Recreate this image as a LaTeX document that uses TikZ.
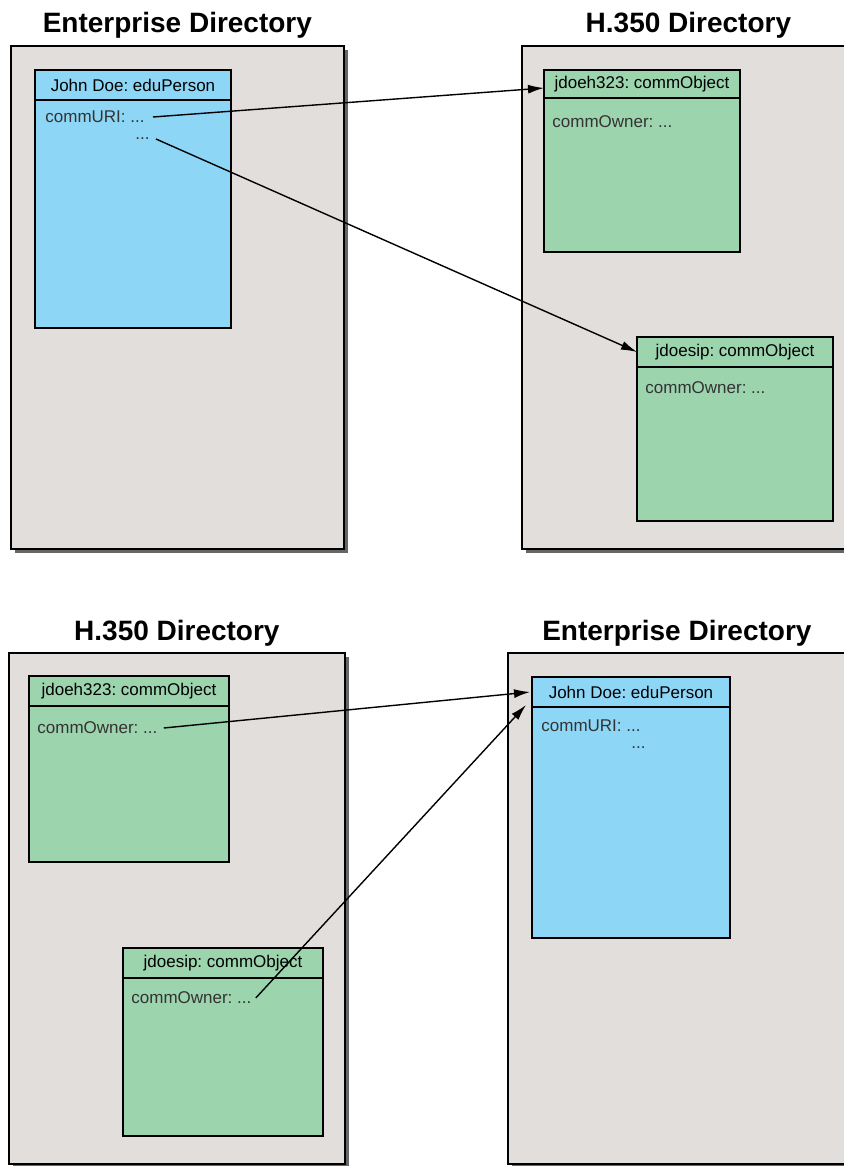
\documentclass[tikz,border=0pt]{standalone}
\usepackage{fontspec}
\setmainfont{Liberation Sans}
\usetikzlibrary{shadows,arrows.meta,positioning}
\definecolor{dirgray}{HTML}{E2DEDC}
\definecolor{edublue}{HTML}{8ED6F6}
\definecolor{commgreen}{HTML}{9CD4AE}
\frenchspacing
\begin{document}
\begin{tikzpicture}[x=0.5pt,y=-0.5pt,>={Latex[length=8pt,width=4.5pt]},
    dirbox/.style={draw,line width=0.9pt,fill=dirgray,anchor=north west,inner sep=0,
      drop shadow={shadow xshift=2pt,shadow yshift=-2pt,fill=black!75,opacity=0.8}},
    dirtitle/.style={font=\fontsize{14}{16}\selectfont\bfseries,anchor=base},
    objhead/.style={draw,line width=1pt,inner sep=0,outer sep=0,
      font=\fontsize{8.5}{10}\selectfont},
    objbody/.style={draw,line width=0.7pt,anchor=north west,inner sep=0,outer sep=0},
    attr/.style={font=\fontsize{8.5}{10}\selectfont,text=black!80,anchor=west,inner sep=0},
    link/.style={->,line width=0.7pt}]
    \useasboundingbox (0,0) rectangle (844,1166);
    \clip (0,0) rectangle (844,1166);

    % upper half: enterprise entry points to its comm objects
    \node[dirbox,minimum width=166.5pt,minimum height=251.5pt] (ent1) at (10,45) {};
    \node[dirtitle] at ([yshift=6pt]ent1.north) {Enterprise Directory};
    \node[dirbox,minimum width=166.5pt,minimum height=251.5pt] (h1) at (521,45) {};
    \node[dirtitle] at ([yshift=6pt]h1.north) {H.350 Directory};

    \node[objbody,fill=edublue,minimum width=98pt,minimum height=114pt] (b1b) at (35,100) {};
    \node[objhead,fill=edublue,minimum width=98pt,minimum height=15pt,above=0pt of b1b] (b1h)
        {John Doe: eduPerson};
    \node[attr] (b1uri) at (45,117) {commURI: ...};
    \node[attr] (b1more) at (135,139) {...};

    \node[objbody,fill=commgreen,minimum width=98pt,minimum height=77pt] (g1b) at (544,98) {};
    \node[objhead,fill=commgreen,minimum width=98pt,minimum height=14pt,above=0pt of g1b] (g1h)
        {jdoeh323: commObject};
    \node[attr] (g1own) at (552,122) {commOwner: ...};

    \node[objbody,fill=commgreen,minimum width=98pt,minimum height=77pt] (g2b) at (637,367) {};
    \node[objhead,fill=commgreen,minimum width=98pt,minimum height=15pt,above=0pt of g2b] (g2h)
        {jdoesip: commObject};
    \node[attr] (g2own) at (645,388) {commOwner: ...};

    \draw[link] ([xshift=4pt]b1uri.east) -- ([yshift=-2pt]g1h.west);
    \draw[link] ([xshift=3pt]b1more.east) -- (g2h.west);

    % lower half: comm objects point back to the owner
    \node[dirbox,minimum width=168pt,minimum height=255.5pt] (h2) at (8,652) {};
    \node[dirtitle] at ([yshift=6pt]h2.north) {H.350 Directory};
    \node[dirbox,minimum width=169pt,minimum height=255.5pt] (ent2) at (507,652) {};
    \node[dirtitle] at ([yshift=6pt]ent2.north) {Enterprise Directory};

    \node[objbody,fill=commgreen,minimum width=100pt,minimum height=78pt] (g3b) at (29,706) {};
    \node[objhead,fill=commgreen,minimum width=100pt,minimum height=15pt,above=0pt of g3b] (g3h)
        {jdoeh323: commObject};
    \node[attr] (g3own) at (37,728) {commOwner: ...};

    \node[objbody,fill=commgreen,minimum width=100pt,minimum height=79pt] (g4b) at (123,978) {};
    \node[objhead,fill=commgreen,minimum width=100pt,minimum height=15pt,above=0pt of g4b] (g4h)
        {jdoesip: commObject};
    \node[attr] (g4own) at (131,998) {commOwner: ...};

    \node[objbody,fill=edublue,minimum width=99pt,minimum height=115.5pt] (b2b) at (532,707) {};
    \node[objhead,fill=edublue,minimum width=99pt,minimum height=15pt,above=0pt of b2b] (b2h)
        {John Doe: eduPerson};
    \node[attr] (b2uri) at (541,726) {commURI: ...};
    \node[attr] (b2more) at (631,748) {...};

    \draw[link] ([xshift=3pt]g3own.east) -- ([xshift=-1pt]b2h.west);
    \draw[link] ([xshift=2pt]g4own.east) -- ([xshift=-3pt,yshift=1pt]b2h.south west);
\end{tikzpicture}
\end{document}
